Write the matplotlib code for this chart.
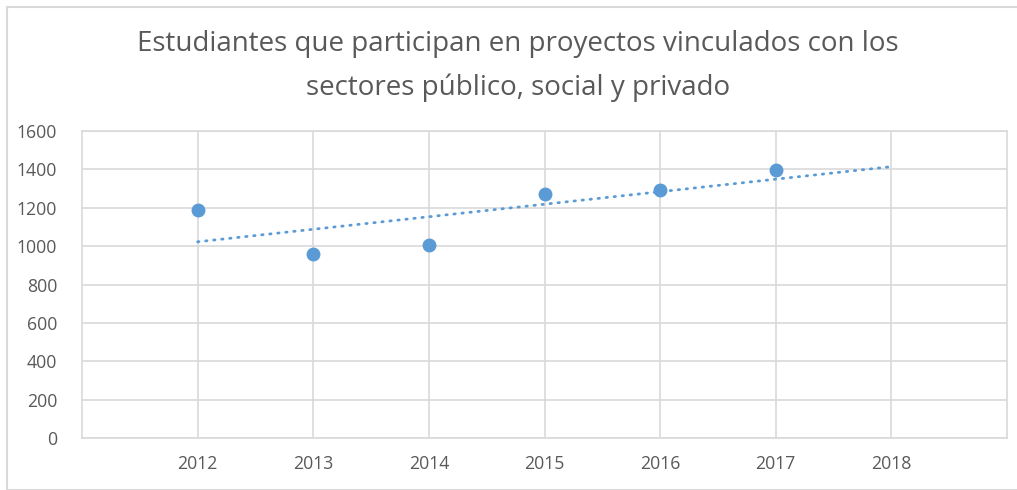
import numpy as np
import matplotlib
matplotlib.use("Agg")
import matplotlib.pyplot as plt
from matplotlib.patches import Rectangle

years = [2012, 2013, 2014, 2015, 2016, 2017]
students = [1190, 960, 1005, 1270, 1290, 1395]
trend_years = [2012, 2018]
yticks = [0, 200, 400, 600, 800, 1000, 1200, 1400, 1600]
xticks = [2012, 2013, 2014, 2015, 2016, 2017, 2018]
title = "Estudiantes que participan en proyectos vinculados con los\nsectores público, social y privado"

plt.rcParams['font.family'] = ['Open Sans', 'DejaVu Sans']
blue = '#5b9bd5'
grid = '#d9d9d9'
txt = '#595959'

fig = plt.figure(figsize=(10.17, 4.90), dpi=100)
fig.patches.append(Rectangle((6.5/1017, 0), 1, 1 - 7.5/490, transform=fig.transFigure,
                             fill=False, edgecolor=grid, linewidth=1.5))
ax = fig.add_axes([82/1017, 1 - 438.3/490, (1007 - 82)/1017, (438.3 - 130.7)/490])

ax.set_xlim(2011, 2019)
ax.set_ylim(0, 1600)
ax.set_xticks(xticks)
ax.set_yticks(yticks)
ax.grid(True, color=grid, linewidth=1.2)
ax.set_axisbelow(True)
for s in ax.spines.values():
    s.set_color(grid)
    s.set_linewidth(1.2)
ax.tick_params(length=0, labelsize=12.7, colors=txt)
ax.tick_params(axis='y', pad=18)
ax.tick_params(axis='x', pad=12)

coef = np.polyfit(np.array(years, dtype=float), np.array(students, dtype=float), 1)
ty = np.polyval(coef, np.array(trend_years, dtype=float))
ax.plot(trend_years, ty, color=blue, linewidth=2, linestyle=(0, (0.5, 2.4)),
        dash_capstyle='round', zorder=2)
ax.plot(years, students, 'o', color=blue, markersize=9, zorder=3)

fig.text(518/1017, 1 - 66/490, title, ha='center', va='center', fontsize=20,
         color=txt, linespacing=1.75)

fig.savefig('out.png', dpi=100)
